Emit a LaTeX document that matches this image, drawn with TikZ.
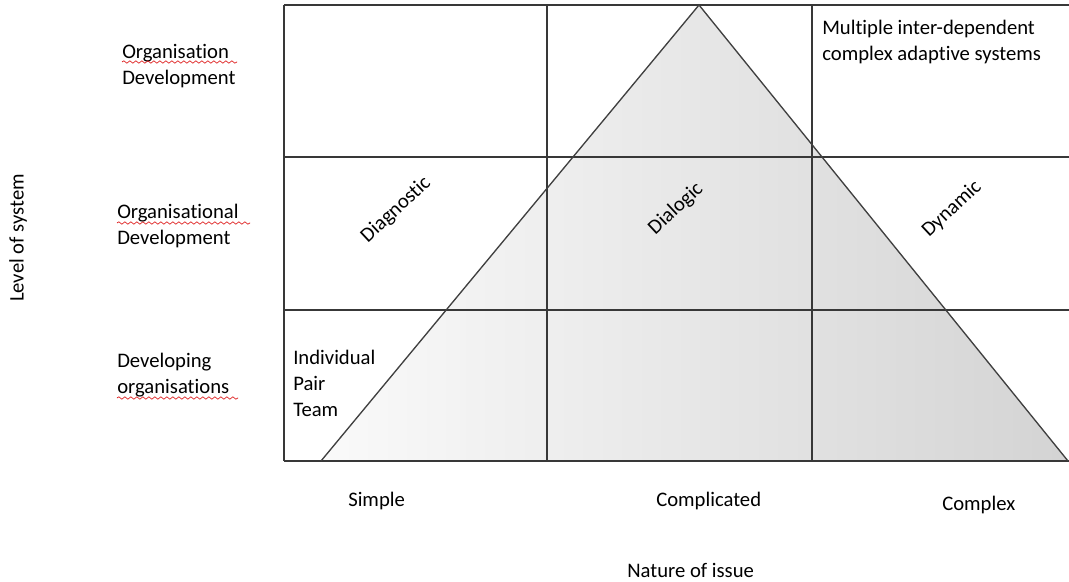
\documentclass[tikz,border=0pt]{standalone}
\usepackage{fontspec}
\setmainfont{Carlito}[Ligatures=NoCommon]
\usetikzlibrary{decorations.pathmorphing}
\begin{document}
\begin{tikzpicture}[x=0.75pt,y=-0.75pt,
  gridline/.style={draw=black!78,line width=1.1pt},
  label/.style={inner sep=0pt,align=left,font=\fontsize{15.5}{19.5}\selectfont},
  spell/.style={draw=red!85!black,line width=0.45pt,decorate,
    decoration={snake,amplitude=0.9,segment length=4.5}}]
\useasboundingbox (0,0) rectangle (1069,581);

% triangle fill, light at the left, darker towards the right
\coordinate (apex) at (699,5);
\coordinate (tl) at (321,461);
\coordinate (tr) at (1068,461);
\fill[left color=gray!4,right color=gray!34] (tl) -- (apex) -- (tr) -- cycle;

% grid of the matrix
\coordinate (g00) at (284,5);
\coordinate (g10) at (1069,5);
\coordinate (g01) at (284,157);
\coordinate (g11) at (1069,157);
\coordinate (g02) at (284,310);
\coordinate (g12) at (1069,310);
\coordinate (g03) at (284,461);
\coordinate (g13) at (1069,461);
\coordinate (v1t) at (547,5);
\coordinate (v1b) at (547,461);
\coordinate (v2t) at (812,5);
\coordinate (v2b) at (812,461);
\draw[gridline] (g00) -- (g10);
\draw[gridline] (g01) -- (g11);
\draw[gridline] (g02) -- (g12);
\draw[gridline] (g03) -- (g13);
\draw[gridline] (g00) -- (g03);
\draw[gridline] (v1t) -- (v1b);
\draw[gridline] (v2t) -- (v2b);

% triangle outline
\draw[draw=black!75,line width=1pt,line join=miter] (tl) -- (apex) -- (tr);

% row labels (anchored at the baseline of their last line)
\node[label,anchor=base west] (orgdev) at (122,85) {Organisation\\Development};
\node[label,anchor=base west] (orgaldev) at (117,244) {Organisational\\Development};
\node[label,anchor=base west] (devorg) at (117,393) {Developing\\organisations};
\draw[spell] (122,62) -- (237,62);
\draw[spell] (117,223) -- (250,223);
\draw[spell] (117,398) -- (238,398);

\node[label,rotate=90,anchor=center] (level) at (18,238) {Level of system};

% cell texts
\node[label,anchor=base west] (multi) at (822,61) {Multiple inter-dependent\\complex adaptive systems};
\node[label,anchor=base west] (ipt) at (293,416) {Individual\\Pair\\Team};

% approaches along the triangle
\node[label,rotate=43] (diag) at (396,210) {Diagnostic};
\node[label,rotate=43] (dial) at (676,209) {Dialogic};
\node[label,rotate=43] (dyn) at (952,209) {Dynamic};

% column labels
\node[label,anchor=base west] (simple) at (348,506) {Simple};
\node[label,anchor=base west] (compl) at (656,506) {Complicated};
\node[label,anchor=base west] (complex) at (942,510) {Complex};
\node[label,anchor=base west] (nature) at (627,577) {Nature of issue};
\end{tikzpicture}
\end{document}
